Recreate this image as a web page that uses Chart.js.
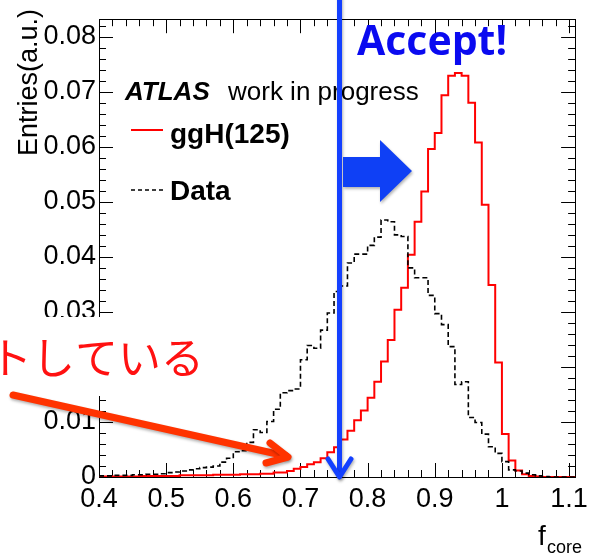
<!DOCTYPE html>
<html>
<head>
<meta charset="utf-8">
<script src="https://cdn.jsdelivr.net/npm/chart.js@4.4.1/dist/chart.umd.min.js"></script>
<style>
  html, body { margin: 0; padding: 0; background: #fff; }
  canvas { display: block; }
</style>
</head>
<body>
<canvas id="fcore" width="594" height="557"></canvas>
<script>
/* f_core: ggH(125) MC vs data, 0.01 bins from 0.40 */

const binStart = 0.40;
const binWidth = 0.01;

const ggH = [
  0.0001, 0.0001, 0.0001, 0.0001, 0.0001, 0.0001, 0.0002, 0.0002, 0.0002, 0.0002,
  0.0002, 0.0002, 0.0003, 0.0003, 0.0003, 0.0003, 0.0003, 0.0004, 0.0004, 0.0004,
  0.0004, 0.0005, 0.0005, 0.0005, 0.0006, 0.0006, 0.0008, 0.0008, 0.0011, 0.0015,
  0.0018, 0.0023, 0.0027, 0.0034, 0.0045, 0.0054, 0.0068, 0.0084, 0.0103, 0.0121,
  0.0144, 0.0173, 0.0210, 0.0249, 0.0304, 0.0344, 0.0404, 0.0464, 0.0519, 0.0596,
  0.0625, 0.0694, 0.0729, 0.0734, 0.0729, 0.0680, 0.0608, 0.0495, 0.0349, 0.0208,
  0.0078, 0.0030, 0.0012, 0.0005, 0.0002, 0.0001, 0, 0, 0, 0, 0
];

const dataHist = [
  0.0002, 0.0002, 0.0003, 0.0003, 0.0003, 0.0004, 0.0004, 0.0005, 0.0005, 0.0006,
  0.0008, 0.0009, 0.0011, 0.0013, 0.0015, 0.0017, 0.0018, 0.0020, 0.0027, 0.0034,
  0.0046, 0.0048, 0.0063, 0.0086, 0.0081, 0.0101, 0.0123, 0.0153, 0.0157, 0.0160,
  0.0213, 0.0239, 0.0234, 0.0267, 0.0298, 0.0337, 0.0347, 0.0389, 0.0405, 0.0405,
  0.0421, 0.0436, 0.0467, 0.0464, 0.0440, 0.0437, 0.0380, 0.0362, 0.0362, 0.0330,
  0.0297, 0.0277, 0.0237, 0.0168, 0.0173, 0.0108, 0.0099, 0.0078, 0.0055, 0.0043,
  0.0028, 0.0013, 0.0011, 0.0007, 0.0004, 0.0002, 0.0001, 0, 0, 0, 0
];

const xTickValues = [0.4, 0.5, 0.6, 0.7, 0.8, 0.9, 1.0, 1.1];
const xTickLabels = ['0.4', '0.5', '0.6', '0.7', '0.8', '0.9', '1', '1.1'];
const yTickValues = [0, 0.01, 0.02, 0.03, 0.04, 0.05, 0.06, 0.07, 0.08];
const yTickLabels = ['0', '0.01', '0.02', '0.03', '0.04', '0.05', '0.06', '0.07', '0.08'];
const xMinorStep = 0.02;
const yMinorStep = 0.002;

const xMin = 0.4, xMax = 1.109;
const yMin = 0, yMax = 0.0832;

const FONT = '"Liberation Sans", Arial, Helvetica, sans-serif';

// histogram outline: one point per bin low edge + closing edge
function toSteps(values) {
  const pts = values.map((v, i) => ({ x: binStart + i * binWidth, y: v }));
  pts.push({ x: binStart + values.length * binWidth, y: values[values.length - 1] });
  return pts;
}

/* --------- frame + ROOT style inner ticks --------- */
const rootFrame = {
  id: 'rootFrame',
  beforeDatasetsDraw(chart) {
    const { ctx, chartArea: a, scales: { x, y } } = chart;
    ctx.save();
    ctx.strokeStyle = '#000';
    ctx.lineWidth = 1;
    const eps = 1e-9;
    // x ticks (bottom + top)
    for (let v = 0.4; v <= xMax + eps; v += xMinorStep) {
      const major = xTickValues.some(t => Math.abs(t - v) < 1e-6);
      const len = major ? 14 : 7;
      const px = Math.round(x.getPixelForValue(v)) + 0.5;
      if (px < a.left || px > a.right + 1) continue;
      ctx.beginPath();
      ctx.moveTo(px, a.bottom); ctx.lineTo(px, a.bottom - len);
      ctx.moveTo(px, a.top); ctx.lineTo(px, a.top + len);
      ctx.stroke();
    }
    // y ticks (left + right)
    for (let v = 0; v <= yMax + eps; v += yMinorStep) {
      const major = yTickValues.some(t => Math.abs(t - v) < 1e-6);
      const len = major ? 14 : 7;
      const py = Math.round(y.getPixelForValue(v)) + 0.5;
      ctx.beginPath();
      ctx.moveTo(a.left, py); ctx.lineTo(a.left + len, py);
      ctx.moveTo(a.right, py); ctx.lineTo(a.right - len, py);
      ctx.stroke();
    }
    ctx.strokeRect(Math.round(a.left) + 0.5, Math.round(a.top) + 0.5,
                   Math.round(a.right - a.left), Math.round(a.bottom - a.top));
    ctx.restore();
  },
  afterDatasetsDraw(chart) {
    const { ctx } = chart;
    ctx.save();
    ctx.fillStyle = '#000';
    // y title
    ctx.save();
    ctx.translate(37, 9);
    ctx.rotate(-Math.PI / 2);
    ctx.font = '27px ' + FONT;
    ctx.textAlign = 'right';
    ctx.textBaseline = 'alphabetic';
    ctx.fillText('Entries(a.u.)', 0, 0);
    ctx.restore();
    // x title f_core
    ctx.font = '28px ' + FONT;
    ctx.fillText('f', 538, 545);
    ctx.font = '18px ' + FONT;
    ctx.fillText('core', 547, 553);
    // legend
    ctx.font = 'italic bold 26px ' + FONT;
    ctx.fillText('ATLAS', 125, 100);
    ctx.font = '26px ' + FONT;
    ctx.fillText('work in progress', 228, 100);
    ctx.strokeStyle = '#ff0000';
    ctx.lineWidth = 2;
    ctx.beginPath(); ctx.moveTo(131, 130); ctx.lineTo(163, 130); ctx.stroke();
    ctx.font = 'bold 28px ' + FONT;
    ctx.fillText('ggH(125)', 170, 143);
    ctx.strokeStyle = '#000';
    ctx.lineWidth = 1.6;
    ctx.setLineDash([4, 3]);
    ctx.beginPath(); ctx.moveTo(131, 190); ctx.lineTo(163, 190); ctx.stroke();
    ctx.setLineDash([]);
    ctx.fillText('Data', 170, 200);
    ctx.restore();
  }
};

/* --------- slide annotations on top --------- */
const annotations = {
  id: 'annotations',
  afterDraw(chart) {
    const { ctx } = chart;
    ctx.save();
    // white text box hiding part of the y axis
    ctx.fillStyle = '#fff';
    ctx.fillRect(0, 317, 205, 79);
    // red japanese text (cut at the left edge)
    ctx.fillStyle = '#ff1111';
    ctx.font = '43px "Noto Sans CJK JP", sans-serif';
    ctx.textAlign = 'right';
    ctx.textBaseline = 'middle';
    ctx.fillText('カットしている', 204, 358);
    ctx.textAlign = 'left';

    // red arrow
    ctx.shadowColor = 'rgba(0,0,0,0.3)';
    ctx.shadowBlur = 3;
    ctx.shadowOffsetX = 1;
    ctx.shadowOffsetY = 2;
    ctx.strokeStyle = '#ff3300';
    ctx.lineCap = 'round';
    ctx.lineJoin = 'round';
    ctx.lineWidth = 7;
    ctx.beginPath(); ctx.moveTo(13, 395); ctx.lineTo(286, 456); ctx.stroke();
    ctx.beginPath(); ctx.moveTo(270, 443); ctx.lineTo(288, 457); ctx.lineTo(266, 463); ctx.stroke();

    // blue vertical arrow
    ctx.strokeStyle = '#1440ff';
    ctx.lineWidth = 5;
    ctx.beginPath(); ctx.moveTo(339.5, -5); ctx.lineTo(339.5, 475); ctx.stroke();
    ctx.beginPath(); ctx.moveTo(328, 459); ctx.lineTo(339.5, 477); ctx.lineTo(351, 459); ctx.stroke();

    // blue block arrow
    ctx.fillStyle = '#0f40f5';
    ctx.beginPath();
    ctx.moveTo(343, 157); ctx.lineTo(380, 157); ctx.lineTo(380, 140);
    ctx.lineTo(412, 171); ctx.lineTo(380, 202); ctx.lineTo(380, 187);
    ctx.lineTo(343, 187); ctx.closePath(); ctx.fill();

    // Accept!
    ctx.shadowColor = 'transparent';
    ctx.fillStyle = '#0a0af0';
    ctx.font = 'bold 41px "Open Sans", sans-serif';
    ctx.textBaseline = 'alphabetic';
    ctx.fillText('Accept!', 357, 55);
    ctx.restore();
  }
};

new Chart(document.getElementById('fcore'), {
  type: 'line',
  data: {
    datasets: [
      {
        label: 'Data',
        data: toSteps(dataHist),
        stepped: true,
        borderColor: '#000',
        borderWidth: 1.6,
        borderDash: [5, 3],
        pointRadius: 0,
        fill: false
      },
      {
        label: 'ggH(125)',
        data: toSteps(ggH),
        stepped: true,
        borderColor: '#ff0000',
        borderWidth: 2,
        pointRadius: 0,
        fill: false
      }
    ]
  },
  options: {
    responsive: false,
    animation: false,
    devicePixelRatio: 1,
    layout: { padding: { left: 0, top: 13, right: 12.5, bottom: 0 } },
    plugins: { legend: { display: false }, tooltip: { enabled: false } },
    scales: {
      x: {
        type: 'linear',
        min: xMin, max: xMax,
        afterFit: s => { s.height = 80; },
        afterBuildTicks: s => { s.ticks = xTickValues.map(v => ({ value: v })); },
        ticks: {
          autoSkip: false, maxRotation: 0, padding: 6,
          font: { family: FONT, size: 27 }, color: '#000',
          callback: (v, i) => xTickLabels[i]
        },
        grid: { display: false, drawTicks: false },
        border: { display: false }
      },
      y: {
        min: yMin, max: yMax,
        afterFit: s => { s.width = 99; },
        afterBuildTicks: s => { s.ticks = yTickValues.map(v => ({ value: v })); },
        ticks: {
          autoSkip: false, padding: 3,
          font: { family: FONT, size: 27 }, color: '#000',
          callback: (v, i) => yTickLabels[i]
        },
        grid: { display: false, drawTicks: false },
        border: { display: false }
      }
    }
  },
  plugins: [rootFrame, annotations]
});
</script>
</body>
</html>
